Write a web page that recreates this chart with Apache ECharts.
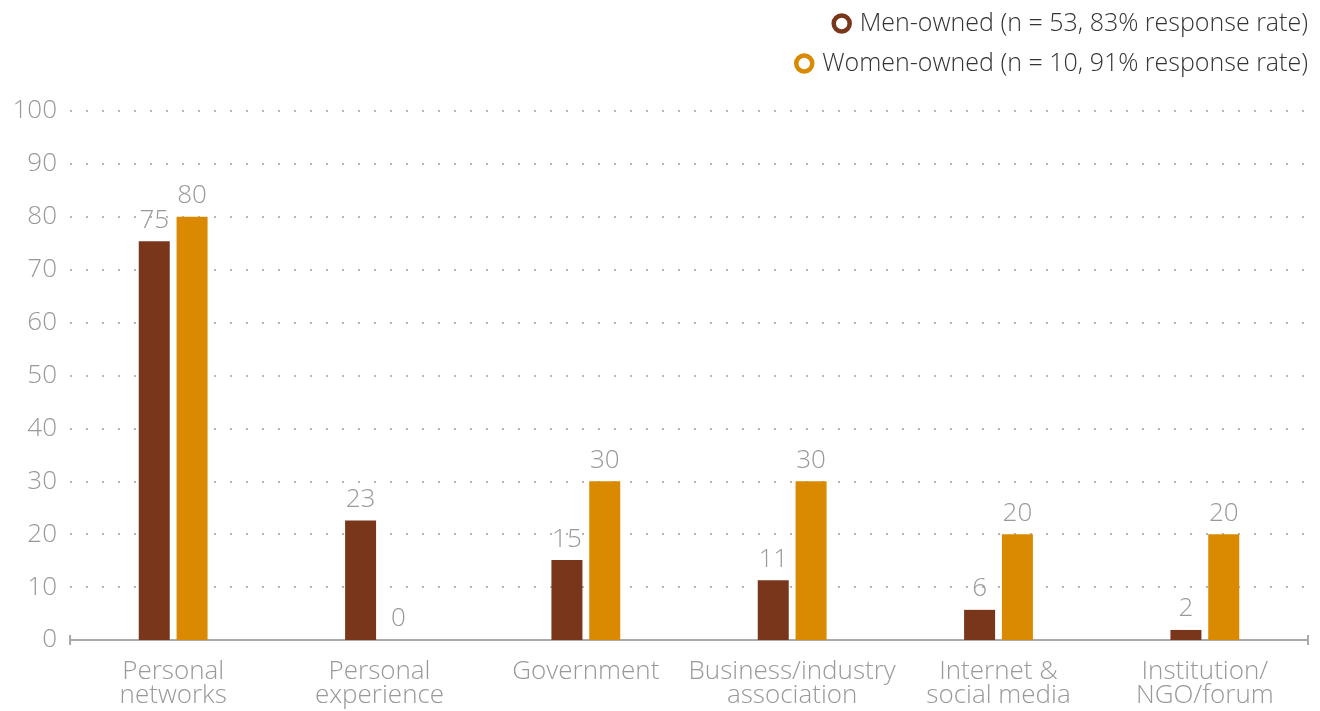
<!DOCTYPE html>
<html>
<head>
<meta charset="utf-8">
<script src="https://cdn.jsdelivr.net/npm/echarts@6/dist/echarts.min.js"></script>
<style>
  html, body { margin: 0; padding: 0; background: #fff; }
  #chart { width: 1320px; height: 711px; }
</style>
</head>
<body>
<div id="chart"></div>
<script>
// 类目和数据
const categories = [
  'Personal\nnetworks',
  'Personal\nexperience',
  'Government',
  'Business/industry\nassociation',
  'Internet &\nsocial media',
  'Institution/\nNGO/forum'
]
const menName = 'Men-owned (n = 53, 83% response rate)'
const womenName = 'Women-owned (n = 10, 91% response rate)'
const menValues = [75.4, 22.6, 15.1, 11.3, 5.7, 1.9]
const womenValues = [80, 0, 30, 30, 20, 20]
const yTicks = [0, 10, 20, 30, 40, 50, 60, 70, 80, 90, 100]

const brown = '#7a361b'
const orange = '#d98a00'
const grey = '#999999'
const font = 'Open Sans'

const barLabel = {
  show: true,
  position: 'top',
  distance: 8,
  color: grey,
  fontFamily: font,
  fontWeight: 300,
  fontSize: 26,
  formatter: p => Math.round(p.value)
}

// 图例文字
const legendText = {
  color: '#333',
  fontSize: 25,
  fontWeight: 300,
  fontFamily: font,
  padding: [0, 0, 0, 5]
}

const option = {
  animation: false,
  textStyle: { fontFamily: font },
  legend: [
    {
      data: [menName],
      right: 7,
      top: 6,
      icon: 'circle',
      itemWidth: 16,
      itemHeight: 16,
      itemStyle: { color: '#fff', borderColor: brown, borderWidth: 4.5 },
      textStyle: legendText
    },
    {
      data: [womenName],
      right: 7,
      top: 46,
      icon: 'circle',
      itemWidth: 16,
      itemHeight: 16,
      itemStyle: { color: '#fff', borderColor: orange, borderWidth: 4.5 },
      textStyle: legendText
    }
  ],
  grid: { left: 70, right: 12, top: 111, bottom: 71, containLabel: false },
  xAxis: {
    type: 'category',
    data: categories,
    axisLine: {
      lineStyle: { color: '#aaaaaa', width: 2 },
      symbol: ['rect', 'rect'],
      symbolSize: [10, 2]
    },
    axisTick: { show: false },
    axisLabel: {
      color: grey,
      fontSize: 26,
      fontWeight: 300,
      fontFamily: font,
      lineHeight: 24,
      margin: 20,
      interval: 0
    }
  },
  yAxis: {
    type: 'value',
    min: yTicks[0],
    max: yTicks[yTicks.length - 1],
    interval: 10,
    axisLine: { show: false },
    axisTick: { show: false },
    axisLabel: {
      color: grey,
      fontSize: 26,
      fontWeight: 300,
      fontFamily: font,
      margin: 13
    },
    splitLine: {
      lineStyle: { color: '#b5b5b5', width: 2, type: [2, 14] }
    }
  },
  series: [
    {
      name: menName,
      type: 'bar',
      data: menValues,
      barWidth: 31,
      barGap: '22%',
      itemStyle: { color: brown },
      label: barLabel
    },
    {
      name: womenName,
      type: 'bar',
      data: womenValues,
      barWidth: 31,
      itemStyle: { color: orange },
      label: barLabel
    }
  ]
}

const E = echarts.init(document.getElementById('chart'))
E.setOption(option)
</script>
</body>
</html>
